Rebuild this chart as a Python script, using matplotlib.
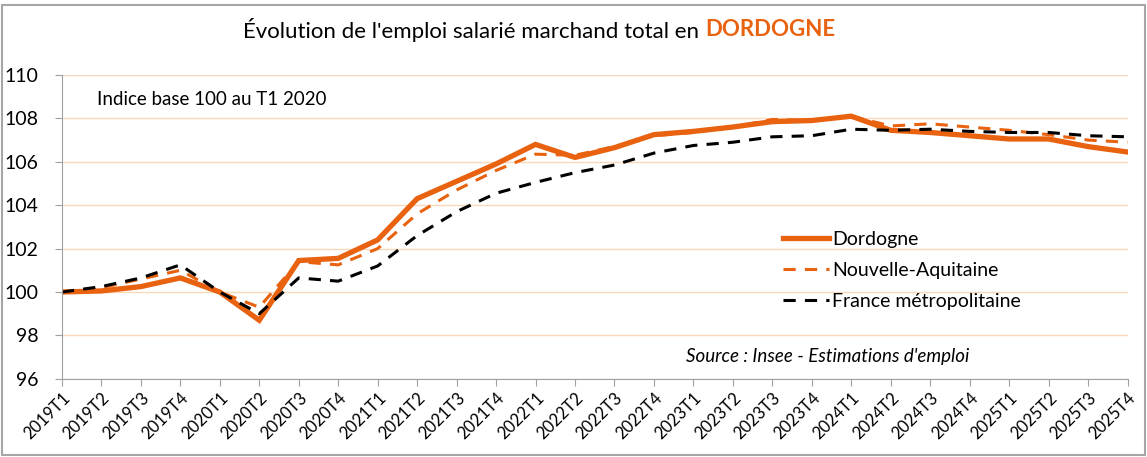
import numpy as np
import matplotlib.pyplot as plt
from matplotlib.patches import Rectangle

plt.rcParams['font.family'] = ['Lato', 'DejaVu Sans']

# trimestres 2019T1 -> 2025T4
quarters = [f"{y}T{q}" for y in range(2019, 2026) for q in range(1, 5)]

dordogne = [100.0, 100.05, 100.25, 100.65, 100.0, 98.7, 101.45, 101.55,
            102.4, 104.3, 105.1, 105.9, 106.8, 106.2, 106.65, 107.25,
            107.4, 107.6, 107.85, 107.9, 108.1, 107.45, 107.35, 107.2,
            107.05, 107.05, 106.7, 106.45]
nouvelle_aquitaine = [100.0, 100.2, 100.6, 101.0, 100.0, 99.3, 101.4, 101.25,
                      102.0, 103.6, 104.7, 105.6, 106.35, 106.3, 106.7, 107.2,
                      107.35, 107.6, 107.95, 107.9, 108.1, 107.65, 107.75, 107.6,
                      107.45, 107.25, 107.0, 106.9]
france = [100.0, 100.25, 100.65, 101.25, 100.0, 99.0, 100.65, 100.5,
          101.2, 102.6, 103.7, 104.55, 105.05, 105.5, 105.85, 106.4,
          106.75, 106.9, 107.15, 107.2, 107.5, 107.45, 107.5, 107.4,
          107.35, 107.35, 107.2, 107.15]

orange = '#E8620F'
grid_col = '#FAD9B8'

fig = plt.figure(figsize=(11.47, 4.57), dpi=100)
ax = fig.add_axes([0.054, 0.171, 0.929, 0.665])

x = np.arange(len(quarters))
ax.plot(x, dordogne, color=orange, lw=3.8, label='Dordogne', solid_joinstyle='miter')
ax.plot(x, nouvelle_aquitaine, color=orange, lw=2.2, ls=(0, (4, 3)), label='Nouvelle-Aquitaine')
ax.plot(x, france, color='black', lw=2.2, ls=(0, (4, 3)), label='France métropolitaine')

ax.set_xlim(0, len(quarters) - 1)
ax.set_ylim(96, 110)
ax.set_yticks(range(96, 111, 2))
ax.set_xticks(x)
ax.set_xticklabels(quarters, rotation=45, ha='right', rotation_mode='anchor', fontsize=12)
ax.tick_params(axis='y', labelsize=14, length=5, color='#A0A0A0', pad=12)
ax.tick_params(axis='x', length=5, color='#A0A0A0', pad=3)
ax.grid(axis='y', color=grid_col, lw=1)
ax.set_axisbelow(True)
for s in ['top', 'right']:
    ax.spines[s].set_visible(False)
for s in ['left', 'bottom']:
    ax.spines[s].set_color('#A0A0A0')

ax.text(0.033, 0.92, 'Indice base 100 au T1 2020', transform=ax.transAxes,
        fontsize=13.5, va='center')
ax.text(0.719, 0.072, "Source : Insee - Estimations d'emploi", transform=ax.transAxes,
        fontsize=13.5, style='italic', ha='center', va='center')

leg = ax.legend(loc='upper left', bbox_to_anchor=(0.66, 0.545), frameon=False,
                fontsize=14, handlelength=2.4, handletextpad=0.15, labelspacing=0.72)

# titre en deux couleurs
t1 = fig.text(0.212, 0.935, "Évolution de l'emploi salarié marchand total en ",
              fontsize=16, va='center')
fig.canvas.draw()
bb = t1.get_window_extent()
x1 = fig.transFigure.inverted().transform((bb.x1, bb.y0))[0]
fig.text(x1, 0.935, 'DORDOGNE', fontsize=16, fontweight='bold', color=orange, va='center')

fig.patches.append(Rectangle((0.002, 0.004), 0.996, 0.985, transform=fig.transFigure,
                             fill=False, ec='#A6A6A6', lw=1.5))

fig.savefig('out.png', dpi=100)
